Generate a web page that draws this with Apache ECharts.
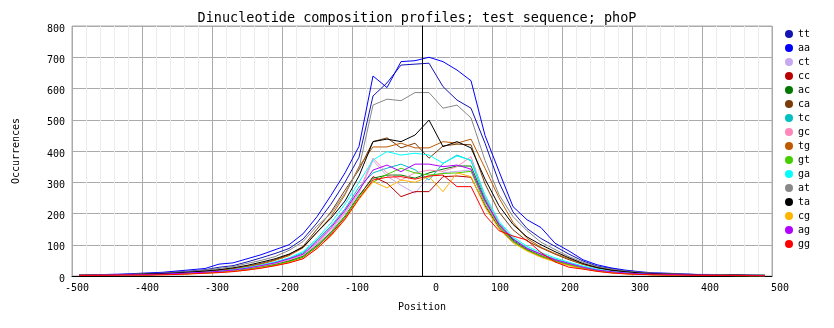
<!DOCTYPE html>
<html>
<head>
<meta charset="utf-8">
<script src="https://cdn.jsdelivr.net/npm/echarts@6/dist/echarts.min.js"></script>
<style>
  html, body { margin: 0; padding: 0; background: #fff; }
  #chart { width: 834px; height: 328px; }
</style>
</head>
<body>
<div id="chart"></div>
<script>
// Window centre positions (bp relative to the site)
const positions = [-490, -470, -450, -430, -410, -390, -370, -350, -330, -310,
  -290, -270, -250, -230, -210, -190, -170, -150, -130, -110,
  -90, -70, -50, -30, -10, 10, 30, 50, 70, 90,
  110, 130, 150, 170, 190, 210, 230, 250, 270, 290,
  310, 330, 350, 370, 390, 410, 430, 450, 470, 490];

// Occurrences of each dinucleotide per window
const tt = [3, 4, 4, 5, 6, 8, 10, 13, 16, 20,
  28, 33, 45, 58, 72, 88, 118, 170, 230, 300,
  380, 576, 618, 675, 678, 681, 606, 563, 537, 425,
  300, 205, 152, 120, 95, 70, 48, 32, 24, 17,
  12, 9, 8, 6, 5, 4, 3, 3, 2, 2];
const aa = [4, 4, 5, 6, 8, 10, 12, 16, 20, 24,
  38, 42, 55, 68, 84, 100, 135, 190, 258, 330,
  415, 640, 603, 686, 689, 700, 686, 659, 625, 450,
  335, 222, 180, 155, 105, 80, 52, 36, 26, 19,
  14, 10, 9, 7, 5, 5, 4, 3, 3, 2];
const ct = [2, 2, 3, 3, 4, 4, 5, 7, 9, 11,
  14, 18, 23, 30, 39, 50, 66, 102, 145, 200,
  265, 370, 320, 290, 265, 318, 330, 335, 339, 235,
  160, 112, 84, 66, 50, 38, 26, 18, 13, 9,
  6, 5, 4, 3, 3, 2, 2, 2, 1, 1];
const cc = [2, 2, 3, 3, 3, 4, 5, 6, 8, 10,
  12, 16, 21, 28, 35, 46, 60, 94, 135, 188,
  255, 318, 297, 254, 270, 270, 318, 320, 316, 225,
  155, 110, 82, 62, 47, 35, 24, 16, 11, 8,
  6, 4, 4, 3, 3, 2, 2, 2, 1, 1];
const ac = [2, 2, 3, 3, 3, 4, 5, 6, 8, 10,
  13, 17, 22, 29, 37, 48, 63, 98, 140, 192,
  258, 313, 323, 323, 313, 330, 342, 352, 352, 245,
  163, 115, 85, 66, 50, 37, 25, 17, 12, 8,
  6, 5, 4, 3, 3, 2, 2, 2, 1, 1];
const ca = [3, 3, 4, 4, 5, 6, 8, 10, 12, 15,
  19, 24, 31, 40, 52, 68, 95, 150, 205, 275,
  340, 430, 442, 410, 425, 377, 416, 422, 420, 295,
  205, 148, 112, 90, 70, 52, 37, 26, 18, 13,
  9, 7, 6, 5, 4, 3, 3, 2, 2, 2];
const tc = [3, 3, 3, 4, 5, 5, 6, 8, 10, 13,
  16, 20, 26, 34, 44, 56, 74, 115, 160, 215,
  285, 330, 345, 358, 340, 307, 360, 387, 369, 250,
  170, 120, 90, 70, 54, 41, 29, 20, 14, 10,
  7, 5, 5, 4, 3, 3, 3, 2, 2, 2];
const gc = [2, 2, 3, 3, 4, 5, 6, 7, 9, 12,
  14, 18, 24, 31, 40, 52, 68, 105, 150, 205,
  270, 377, 330, 307, 330, 339, 335, 350, 382, 255,
  168, 118, 88, 68, 52, 39, 27, 18, 13, 9,
  7, 5, 4, 4, 3, 3, 2, 2, 2, 1];
const tg = [2, 3, 3, 4, 5, 6, 7, 9, 11, 14,
  18, 23, 30, 38, 50, 65, 90, 140, 190, 260,
  350, 413, 413, 425, 410, 410, 430, 425, 438, 345,
  250, 172, 120, 92, 72, 55, 38, 27, 19, 14,
  10, 8, 6, 5, 4, 3, 3, 2, 2, 2];
const gt = [2, 2, 2, 3, 3, 4, 5, 6, 8, 10,
  12, 16, 21, 28, 36, 46, 61, 95, 138, 190,
  255, 300, 325, 345, 330, 323, 328, 330, 335, 230,
  158, 110, 82, 64, 48, 36, 25, 17, 11, 8,
  6, 4, 4, 3, 2, 2, 2, 1, 1, 1];
const ga = [2, 2, 3, 3, 4, 5, 6, 8, 10, 12,
  15, 20, 27, 35, 45, 58, 78, 120, 170, 230,
  300, 371, 398, 387, 393, 387, 361, 384, 371, 260,
  175, 125, 95, 75, 58, 44, 32, 22, 15, 11,
  8, 6, 5, 4, 4, 3, 3, 2, 2, 2];
const at = [3, 3, 4, 5, 6, 8, 9, 12, 15, 19,
  24, 30, 40, 50, 62, 82, 110, 160, 200, 265,
  345, 547, 566, 561, 587, 587, 537, 547, 506, 370,
  260, 190, 145, 108, 85, 62, 44, 30, 22, 16,
  12, 9, 7, 6, 5, 4, 3, 3, 3, 2];
const ta = [2, 3, 3, 4, 5, 7, 8, 10, 13, 16,
  20, 26, 34, 44, 55, 70, 92, 140, 185, 240,
  320, 430, 438, 430, 451, 499, 414, 430, 410, 310,
  225, 165, 125, 100, 78, 58, 40, 27, 19, 14,
  10, 8, 6, 5, 4, 3, 3, 3, 2, 2];
const cg = [2, 2, 2, 3, 3, 4, 4, 5, 7, 9,
  11, 15, 19, 26, 33, 43, 56, 88, 128, 180,
  245, 302, 282, 307, 300, 318, 270, 330, 318, 220,
  150, 106, 80, 60, 45, 33, 23, 15, 10, 7,
  5, 4, 3, 3, 2, 2, 2, 1, 1, 1];
const ag = [2, 3, 3, 4, 4, 5, 6, 8, 10, 12,
  15, 19, 25, 33, 42, 55, 70, 110, 155, 210,
  275, 339, 355, 334, 358, 358, 350, 355, 342, 240,
  165, 118, 88, 70, 52, 40, 28, 19, 14, 10,
  7, 6, 5, 4, 3, 3, 2, 2, 2, 1];
const gg = [2, 2, 2, 3, 3, 3, 4, 5, 7, 9,
  11, 14, 19, 25, 33, 42, 55, 88, 130, 182,
  248, 307, 316, 318, 310, 320, 323, 286, 286, 195,
  145, 128, 115, 75, 45, 28, 22, 15, 10, 7,
  5, 4, 3, 3, 2, 2, 2, 2, 1, 1];

const seriesNames = ['tt', 'aa', 'ct', 'cc', 'ac', 'ca', 'tc', 'gc', 'tg', 'gt', 'ga', 'at', 'ta', 'cg', 'ag', 'gg'];
const seriesValues = { tt, aa, ct, cc, ac, ca, tc, gc, tg, gt, ga, at, ta, cg, ag, gg };
const seriesColors = {
  tt: '#1414b4', aa: '#0000ff', ct: '#c8a8f0', cc: '#b80000',
  ac: '#007800', ca: '#7a3c08', tc: '#00c0c0', gc: '#ff88b8',
  tg: '#c05a00', gt: '#44d000', ga: '#00ffff', at: '#888888',
  ta: '#000000', cg: '#ffb400', ag: '#b000ff', gg: '#ff0000'
};

const FONT = '"DejaVu Sans Mono", monospace';
const chart = echarts.init(document.getElementById('chart'));

const series = seriesNames.map(function (name, idx) {
  const vals = seriesValues[name];
  const s = {
    name: name,
    type: 'line',
    symbol: 'none',
    showSymbol: false,
    animation: false,
    color: seriesColors[name],
    lineStyle: { width: 1, color: seriesColors[name] },
    itemStyle: { color: seriesColors[name] },
    emphasis: { disabled: true },
    data: positions.map(function (p, i) { return [p, vals[i]]; })
  };
  if (idx === 0) {
    // vertical reference line at the site position
    s.markLine = {
      silent: true,
      symbol: 'none',
      label: { show: false },
      lineStyle: { color: '#000', width: 1, type: 'solid' },
      data: [{ xAxis: 0 }]
    };
  }
  return s;
});

chart.setOption({
  animation: false,
  backgroundColor: '#ffffff',
  title: {
    text: 'Dinucleotide composition profiles; test sequence; phoP',
    left: 'center',
    top: 6,
    textStyle: { fontFamily: FONT, fontSize: 13.5, fontWeight: 'normal', color: '#000' }
  },
  legend: {
    orient: 'vertical',
    left: 780,
    top: 24,
    icon: 'circle',
    itemWidth: 8,
    itemHeight: 8,
    itemGap: 4,
    itemTextGap: 9,
    selectedMode: false,
    textStyle: { fontFamily: FONT, fontSize: 10, color: '#000', lineHeight: 10 },
    data: seriesNames
  },
  grid: {
    left: 72, top: 26, width: 700, height: 250,
    show: true, borderColor: '#aaaaaa', borderWidth: 1, containLabel: false
  },
  xAxis: {
    type: 'value',
    min: -500, max: 500, interval: 100,
    name: 'Position',
    nameLocation: 'middle',
    nameGap: 26,
    nameTextStyle: { fontFamily: FONT, fontSize: 10, color: '#000' },
    axisLine: { show: true, onZero: false, lineStyle: { color: '#000', width: 1 } },
    axisTick: { show: false },
    axisLabel: {
      fontFamily: FONT, fontSize: 10, color: '#000', margin: 7,
      align: 'right', padding: [0, -17, 0, 0],
      showMinLabel: true, showMaxLabel: true
    },
    splitLine: { show: true, lineStyle: { color: '#aaaaaa', width: 1 } },
    minorTick: { show: false, splitNumber: 5 },
    minorSplitLine: { show: true, lineStyle: { color: '#ececec', width: 1 } }
  },
  yAxis: {
    type: 'value',
    min: 0, max: 800, interval: 100,
    name: 'Occurrences',
    nameLocation: 'middle',
    nameGap: 51,
    nameRotate: 90,
    nameTextStyle: { fontFamily: FONT, fontSize: 10, color: '#000' },
    axisLine: { show: true, lineStyle: { color: '#000', width: 1 } },
    axisTick: { show: false },
    axisLabel: {
      fontFamily: FONT, fontSize: 10, color: '#000', margin: 7,
      verticalAlign: 'top', lineHeight: 6
    },
    splitLine: { show: true, lineStyle: { color: '#aaaaaa', width: 1 } }
  },
  series: series
});
</script>
</body>
</html>
